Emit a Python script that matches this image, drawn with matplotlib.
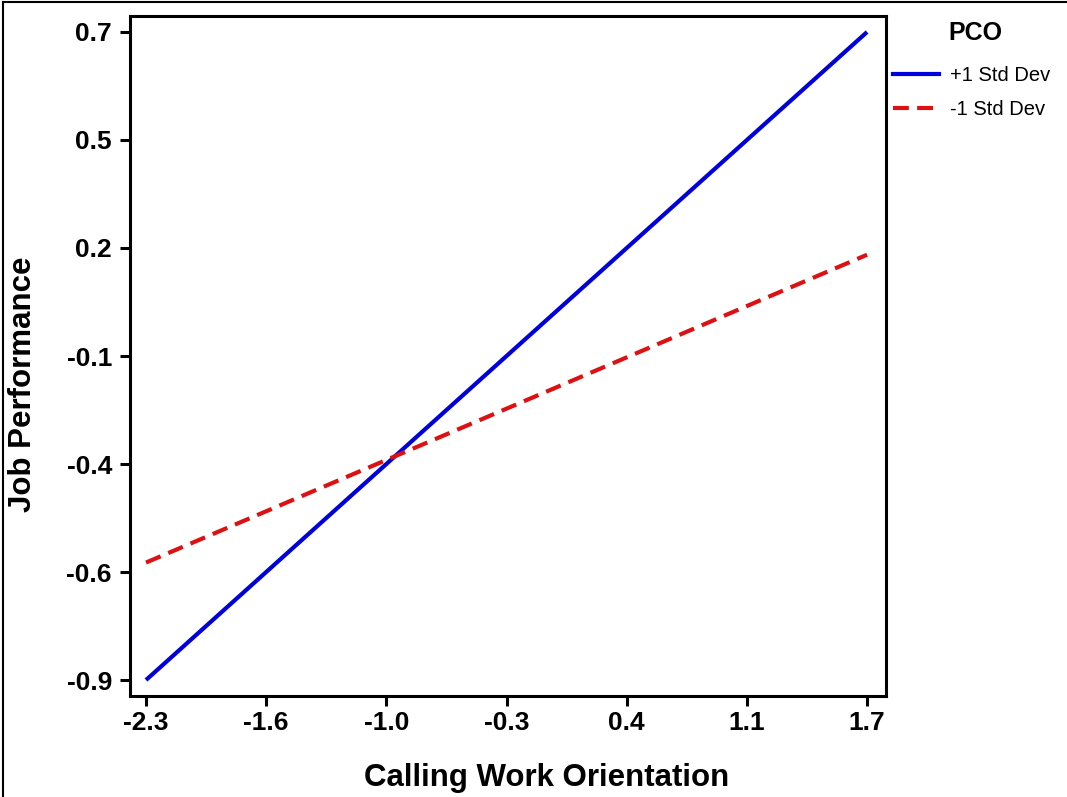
import matplotlib
matplotlib.use("Agg")
import matplotlib.pyplot as plt
from matplotlib.lines import Line2D

# Data
x_vals = [-2.3, 1.7]
plus_sd = [-0.9, 0.7]
minus_sd = [-0.61, 0.15]
x_tick_labels = ["-2.3", "-1.6", "-1.0", "-0.3", "0.4", "1.1", "1.7"]
y_tick_labels = ["-0.9", "-0.6", "-0.4", "-0.1", "0.2", "0.5", "0.7"]
series_names = ["+1 Std Dev", "-1 Std Dev"]
legend_title = "PCO"

plt.rcParams['font.family'] = ['Liberation Sans', 'DejaVu Sans']

W, H = 1067, 797
fig = plt.figure(figsize=(W / 100, H / 100), dpi=100)
left, right, top, bottom = 130, 886, 16, 696
ax = fig.add_axes([left / W, 1 - bottom / H, (right - left) / W, (bottom - top) / H])

blue = "#0000dd"
red = "#dd1111"
dash = (0, (3.8, 2.0))

ax.plot(x_vals, plus_sd, color=blue, lw=3.0, solid_capstyle="butt")
ax.plot(x_vals, minus_sd, color=red, lw=3.0, linestyle=dash)

n = len(x_tick_labels)
xt = [x_vals[0] + i * (x_vals[1] - x_vals[0]) / (n - 1) for i in range(n)]
yt = [-0.9 + i * 1.6 / (len(y_tick_labels) - 1) for i in range(len(y_tick_labels))]
ax.set_xticks(xt)
ax.set_xticklabels(x_tick_labels, fontsize=19, fontweight="bold")
ax.set_yticks(yt)
ax.set_yticklabels(y_tick_labels, fontsize=19, fontweight="bold")
ax.set_xlim(-2.389, 1.805)
ax.set_ylim(-0.9395, 0.7395)

for s in ax.spines.values():
    s.set_linewidth(2.2)
ax.tick_params(length=7, width=2.2, pad=6)
ax.tick_params(axis="x", pad=4)

ax.set_xlabel("Calling Work Orientation", fontsize=22.5, fontweight="bold")
ax.set_ylabel("Job Performance", fontsize=22.5, fontweight="bold")
ax.xaxis.label.set_va("center")
ax.yaxis.label.set_va("center")
ax.xaxis.set_label_coords((547 - left) / (right - left), (bottom - 778) / (bottom - top))
ax.yaxis.set_label_coords((23 - left) / (right - left), (bottom - 384) / (bottom - top))

handles = [Line2D([], [], color=blue, lw=3.0),
           Line2D([], [], color=red, lw=3.0, linestyle=dash)]
leg = fig.legend(handles, series_names, loc="upper left",
                 bbox_to_anchor=(875 / W, 1 - 48 / H), frameon=False,
                 fontsize=14.5, handlelength=2.3, handletextpad=0.5,
                 labelspacing=0.75)
fig.text(975 / W, 1 - 33 / H, legend_title, fontsize=18, fontweight="bold",
         ha="center", va="center")

# Outer frame
fig.add_artist(Line2D([3 / W, 3 / W], [0, 1 - 2 / H], color="black", lw=1.5, transform=fig.transFigure))
fig.add_artist(Line2D([3 / W, 1], [1 - 2 / H, 1 - 2 / H], color="black", lw=1.5, transform=fig.transFigure))

fig.savefig("out.png", dpi=100)
